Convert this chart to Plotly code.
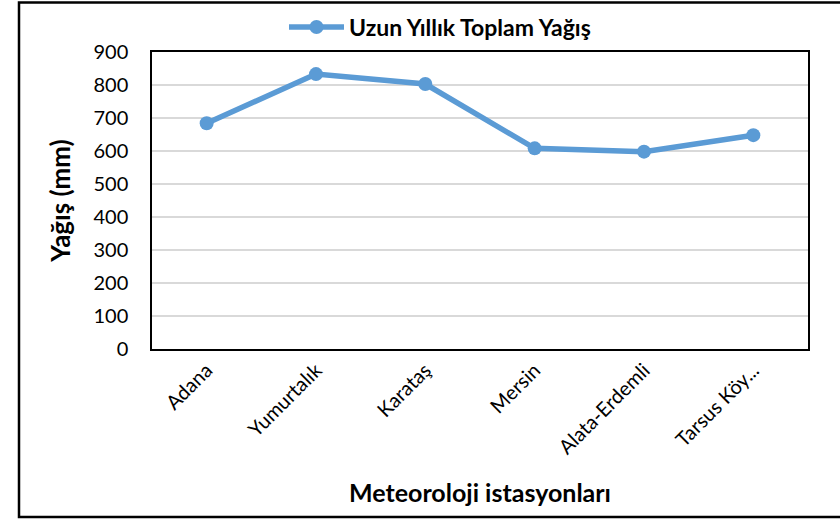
import plotly.graph_objects as go

stations = ["Adana", "Yumurtalık", "Karataş", "Mersin", "Alata-Erdemli", "Tarsus Köy..."]
rainfall = [684, 833, 803, 608, 598, 648]
y_ticks = list(range(0, 1000, 100))

W, H = 840, 519
L, R, T, B = 152, 32, 52, 170
pw, ph = W - L - R, H - T - B


def px_x(x):
    return (x - L) / pw


def px_y(y):
    return (H - B - y) / ph


fig = go.Figure()
fig.add_trace(go.Scatter(
    x=stations, y=rainfall, mode="lines+markers",
    name="Uzun Yıllık Toplam Yağış",
    line=dict(color="#5B9BD5", width=5.5),
    marker=dict(color="#5B9BD5", size=14),
))

# outer chart frame: left, top and bottom only (right edge runs off the page)
fx0, fx1 = px_x(19), px_x(840)
fy0, fy1 = px_y(517), px_y(2.5)
fig.add_shape(type="path", xref="paper", yref="paper",
              path=f"M {fx1} {fy1} L {fx0} {fy1} L {fx0} {fy0} L {fx1} {fy0}",
              line=dict(color="black", width=2.5), layer="below")

fig.update_layout(
    width=W, height=H,
    margin=dict(l=L, r=R, t=T, b=B, autoexpand=False),
    paper_bgcolor="white", plot_bgcolor="white",
    font=dict(family="Lato, Carlito, sans-serif", size=20, color="black"),
    showlegend=True,
    legend=dict(orientation="h", x=px_x(440), xanchor="center", y=px_y(27), yanchor="middle",
                font=dict(size=23, family="Lato, sans-serif", weight="bold"),
                itemwidth=55),
    xaxis=dict(
        tickangle=-45, showgrid=False, ticks="", range=[-0.5, 5.5],
        showline=True, linecolor="black", linewidth=1.5, mirror=True,
        title=dict(text="<b>Meteoroloji istasyonları</b>", font=dict(size=25), standoff=27),
        tickfont=dict(size=20),
    ),
    yaxis=dict(
        range=[0, 900], tickvals=y_ticks, showgrid=True, gridcolor="#d9d9d9", gridwidth=1.5,
        showline=True, linecolor="black", linewidth=1.5, mirror=True, zeroline=False,
        ticks="outside", ticklen=18, tickcolor="white",
        title=dict(text="<b>Yağış (mm)</b>", font=dict(size=26), standoff=15),
        tickfont=dict(size=20),
    ),
)

# drop the default page margin so the chart fills the window without scrollbars
fig.write_html("out.html", config={"displayModeBar": False},
               post_script="document.body.style.margin='0';document.body.style.overflow='hidden';")
